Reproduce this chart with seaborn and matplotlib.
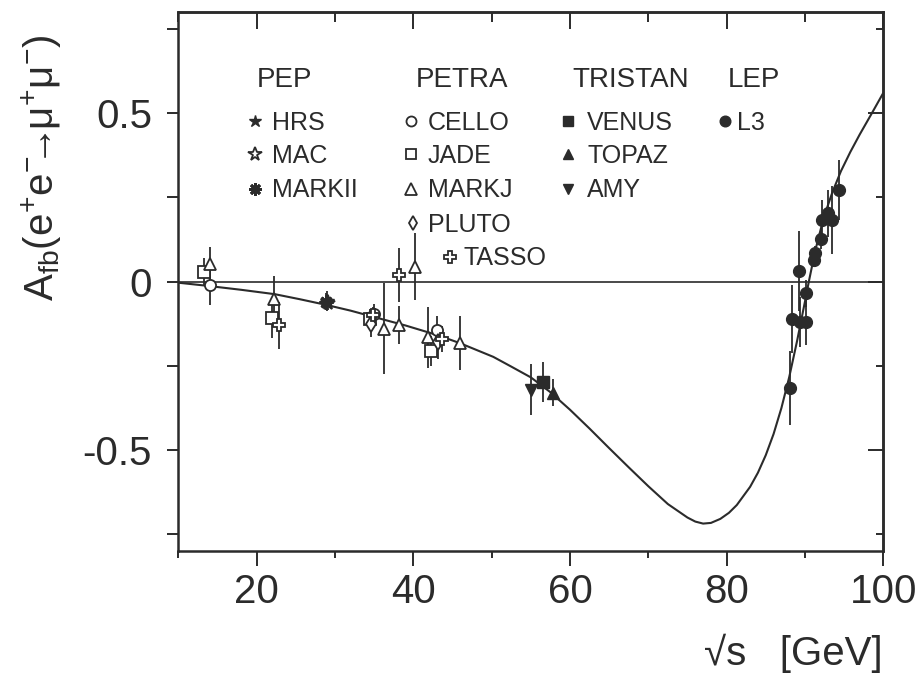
import numpy as np
import pandas as pd
import seaborn as sns
import matplotlib
matplotlib.use('Agg')
import matplotlib.pyplot as plt
from matplotlib.ticker import MultipleLocator, NullFormatter, FuncFormatter

INK = '#2b2b2b'

# --- theory curve ---
curve_x = [10, 13.6, 18, 22.3, 25.5, 28.9, 32, 34.85, 39, 43.0, 45.9, 50.2, 52.5, 55.0, 57.5,
           60.0, 62.5, 65.0, 67.5, 70.0, 72.5, 75.0, 76.0, 77.0, 78.0, 79.2, 80.3, 81.3, 83.0,
           84.0, 85.0, 86.0, 87.0, 88.0, 89.0, 90.0, 90.5, 91.3, 92.4, 93.5, 94.6, 95.8, 97.0,
           98.5, 100]
curve_y = [-0.003, -0.012, -0.024, -0.037, -0.052, -0.069, -0.086, -0.104, -0.130, -0.158,
           -0.182, -0.223, -0.252, -0.284, -0.328, -0.380, -0.436, -0.494, -0.551, -0.607,
           -0.660, -0.700, -0.712, -0.718, -0.716, -0.704, -0.686, -0.663, -0.609, -0.567,
           -0.515, -0.452, -0.375, -0.283, -0.176, -0.060, 0.0, 0.090, 0.190, 0.265, 0.328,
           0.385, 0.437, 0.498, 0.560]

# --- measurements ---
HRS_X = [29.0]
HRS_Y = [-0.058]
HRS_ERR = [0.03]
MAC_X = [29.1]
MAC_Y = [-0.063]
MAC_ERR = [0.02]
MARKII_X = [28.9]
MARKII_Y = [-0.060]
MARKII_ERR = [0.025]
CELLO_X = [14.0, 35.0, 43.0]
CELLO_Y = [-0.010, -0.095, -0.143]
CELLO_ERR = [0.06, 0.03, 0.04]
JADE_X = [13.3, 21.9, 34.4, 42.3]
JADE_Y = [0.030, -0.107, -0.110, -0.205]
JADE_ERR = [0.04, 0.06, 0.03, 0.045]
MARKJ_X = [14.0, 22.2, 36.2, 38.1, 40.2, 41.9, 46.0]
MARKJ_Y = [0.052, -0.050, -0.139, -0.129, 0.045, -0.165, -0.183]
MARKJ_ERR = [0.05, 0.068, 0.135, 0.057, 0.10, 0.09, 0.08]
PLUTO_X = [34.6, 43.2]
PLUTO_Y = [-0.125, -0.180]
PLUTO_ERR = [0.04, 0.05]
TASSO_X = [22.8, 34.8, 38.1, 43.6]
TASSO_Y = [-0.129, -0.100, 0.020, -0.170]
TASSO_ERR = [0.07, 0.025, 0.08, 0.04]
VENUS_X = [56.6]
VENUS_Y = [-0.297]
VENUS_ERR = [0.06]
TOPAZ_X = [57.8]
TOPAZ_Y = [-0.330]
TOPAZ_ERR = [0.04]
AMY_X = [55.0]
AMY_Y = [-0.320]
AMY_ERR = [0.075]
L3_X = [88.1, 88.4, 89.2, 89.4, 90.2, 90.2, 91.2, 91.3, 92.0, 92.2, 93.0, 93.4, 94.3]
L3_Y = [-0.315, -0.111, 0.032, -0.119, -0.119, -0.035, 0.064, 0.086, 0.126, 0.183, 0.203, 0.183, 0.272]
L3_ERR = [0.11, 0.10, 0.12, 0.075, 0.07, 0.04, 0.02, 0.02, 0.03, 0.06, 0.07, 0.10, 0.09]

open_m = dict(mfc='white', mec=INK, mew=1.3)
full_m = dict(mfc=INK, mec=INK, mew=1.0)
experiments = [
    ('HRS', HRS_X, HRS_Y, HRS_ERR, dict(marker='*', ms=10, **full_m)),
    ('MAC', MAC_X, MAC_Y, MAC_ERR, dict(marker='*', ms=11, **open_m)),
    ('MARKII', MARKII_X, MARKII_Y, MARKII_ERR, dict(marker=(8, 2, 0), ms=10, mec=INK, mew=2.0)),
    ('CELLO', CELLO_X, CELLO_Y, CELLO_ERR, dict(marker='o', ms=8, **open_m)),
    ('JADE', JADE_X, JADE_Y, JADE_ERR, dict(marker='s', ms=8, **open_m)),
    ('MARKJ', MARKJ_X, MARKJ_Y, MARKJ_ERR, dict(marker='^', ms=9, **open_m)),
    ('PLUTO', PLUTO_X, PLUTO_Y, PLUTO_ERR, dict(marker='d', ms=8, **open_m)),
    ('TASSO', TASSO_X, TASSO_Y, TASSO_ERR, dict(marker='P', ms=9, **open_m)),
    ('VENUS', VENUS_X, VENUS_Y, VENUS_ERR, dict(marker='s', ms=8, **full_m)),
    ('TOPAZ', TOPAZ_X, TOPAZ_Y, TOPAZ_ERR, dict(marker='^', ms=8, **full_m)),
    ('AMY', AMY_X, AMY_Y, AMY_ERR, dict(marker='v', ms=8, **full_m)),
    ('L3', L3_X, L3_Y, L3_ERR, dict(marker='o', ms=8.5, **full_m)),
]

sns.set_theme(style='ticks')
plt.rcParams['font.family'] = ['Liberation Sans', 'DejaVu Sans']
plt.rcParams['mathtext.fontset'] = 'custom'
plt.rcParams['mathtext.rm'] = 'Liberation Sans'
plt.rcParams['mathtext.it'] = 'Liberation Sans'
plt.rcParams['axes.unicode_minus'] = False

fig = plt.figure(figsize=(9.2, 6.78), dpi=100)
ax = fig.add_axes([0.194, 0.187, 0.766, 0.795])

ax.axhline(0, color=INK, lw=1.2, zorder=1)
sns.lineplot(x=curve_x, y=curve_y, ax=ax, color=INK, lw=1.5, sort=False, estimator=None, zorder=2)

for name, xs, ys, errs, style in experiments:
    ax.errorbar(xs, ys, yerr=errs, fmt='none', ecolor=INK, elinewidth=1.3, capsize=0, zorder=3)
    ax.plot(xs, ys, ls='none', zorder=4, **style)

ax.set_xlim(10, 100)
ax.set_ylim(-0.8, 0.8)
ax.xaxis.set_major_locator(MultipleLocator(20))
ax.xaxis.set_minor_locator(MultipleLocator(10))
ax.yaxis.set_major_locator(MultipleLocator(0.5))
ax.yaxis.set_minor_locator(MultipleLocator(0.25))
ax.yaxis.set_major_formatter(FuncFormatter(lambda v, _: '0' if abs(v) < 1e-9 else f'{v:g}'))
ax.tick_params(axis='x', which='major', direction='out', length=11, width=1.4, pad=5,
               labelsize=29, colors=INK)
ax.tick_params(axis='x', which='minor', direction='out', length=5, width=1.4, colors=INK)
ax.tick_params(axis='y', which='both', direction='out', length=8, width=1.4, pad=11,
               labelsize=29, colors=INK)
for s in ax.spines.values():
    s.set_linewidth(1.8)
    s.set_color(INK)

# mirrored ticks pointing inward on top and right
top = ax.secondary_xaxis('top')
top.xaxis.set_major_locator(MultipleLocator(20))
top.xaxis.set_minor_locator(MultipleLocator(10))
top.xaxis.set_major_formatter(NullFormatter())
top.tick_params(which='major', direction='in', length=12, width=1.4, colors=INK)
top.tick_params(which='minor', direction='in', length=7, width=1.4, colors=INK)
right = ax.secondary_yaxis('right')
right.yaxis.set_major_locator(MultipleLocator(0.5))
right.yaxis.set_minor_locator(MultipleLocator(0.25))
right.yaxis.set_major_formatter(NullFormatter())
right.tick_params(which='major', direction='in', length=11, width=1.4, colors=INK)
right.tick_params(which='minor', direction='in', length=5, width=1.4, colors=INK)
for sec in (top, right):
    for s in sec.spines.values():
        s.set_linewidth(1.8)
        s.set_color(INK)

# hand-made legend: (header, header x, [(name, marker x, text x, row)])
style_of = {e[0]: e[4] for e in experiments}
row_base = [0.7815, 0.7203, 0.6571, 0.5922, 0.5309]
groups = [
    ('PEP', 0.111, [('HRS', 0.109, 0.133, 0), ('MAC', 0.109, 0.133, 1), ('MARKII', 0.109, 0.133, 2)]),
    ('PETRA', 0.336, [('CELLO', 0.330, 0.354, 0), ('JADE', 0.330, 0.354, 1),
                      ('MARKJ', 0.330, 0.354, 2), ('PLUTO', 0.333, 0.354, 3),
                      ('TASSO', 0.385, 0.404, 4)]),
    ('TRISTAN', 0.559, [('VENUS', 0.553, 0.580, 0), ('TOPAZ', 0.553, 0.580, 1), ('AMY', 0.553, 0.580, 2)]),
    ('LEP', 0.780, [('L3', 0.776, 0.793, 0)]),
]
for header, hx, items in groups:
    ax.text(hx, 0.861, header, transform=ax.transAxes, fontsize=20, color=INK,
            ha='left', va='baseline')
    for name, mx, tx, r in items:
        st = dict(style_of[name])
        st['ms'] = st['ms'] * 0.9
        ax.plot([mx], [row_base[r] + 0.0158], transform=ax.transAxes, clip_on=False, **st)
        ax.text(tx, row_base[r], name, transform=ax.transAxes, fontsize=18, color=INK,
                ha='left', va='baseline')

ax.text(-0.1766, 0.712,
        r'$\mathregular{A_{fb}(e^{+}e^{-}\!\!\!{\rightarrow}\!\!\mu^{+}\mu^{-})}$',
        transform=ax.transAxes, rotation=90, rotation_mode='anchor', ha='center',
        va='baseline', fontsize=29, color=INK)
fig.text(883 / 920, 1 - 665 / 678, '\u221as   [GeV]', ha='right', va='baseline',
         fontsize=29, color=INK)

fig.savefig('out.png', dpi=100, facecolor='white')
